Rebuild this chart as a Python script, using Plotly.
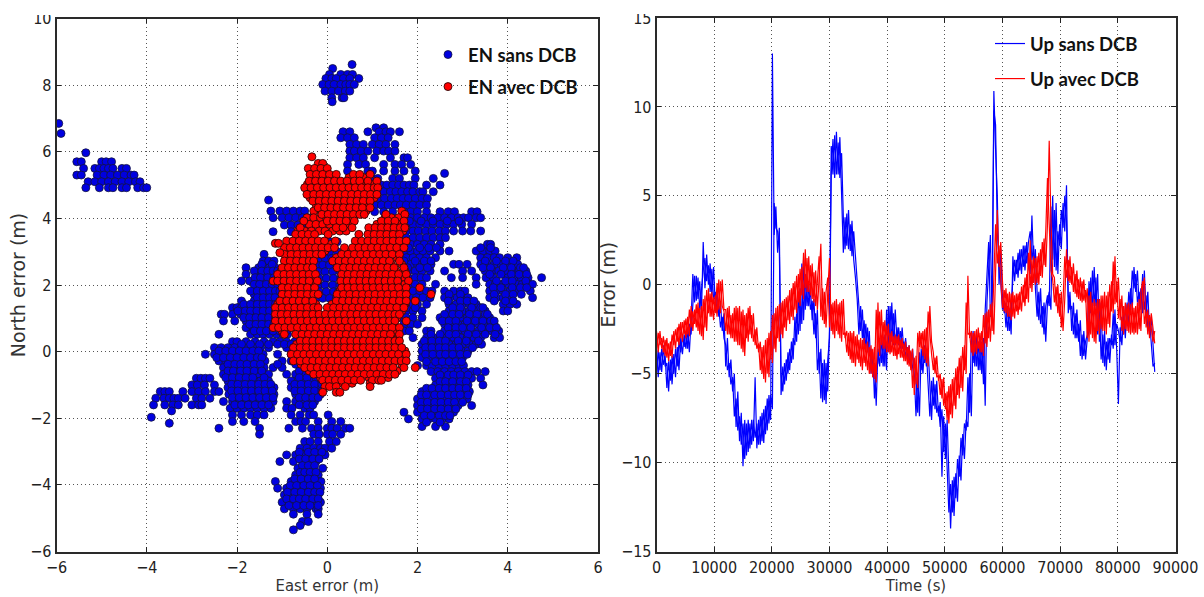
import plotly.graph_objects as go
from plotly.subplots import make_subplots

W, H = 1204, 597

# ---- Scatter data: (north error, [east errors]) ----
blue_top = [
 (8.62,[0.55]),(8.5,[0.12]),(8.32,[0.05,0.3,0.45,0.56]),(8.2,[-0.03,0.1,0.2,0.36,0.5,0.7]),
 (8.02,[-0.1,0.04,0.15,0.3,0.41,0.5,0.6]),(7.82,[-0.05,0.1,0.25,0.4,0.5]),(7.62,[0.1,0.33,0.37]),(7.5,[0.11]),
]
blue_far_left = [
 (6.85,[-5.95]),(6.55,[-5.9]),(5.97,[-5.35]),(5.7,[-5.55,-5.45,-5.0,-4.9,-4.78]),
 (5.5,[-5.4,-5.15,-5.05,-4.95,-4.85,-4.75,-4.55,-4.45]),
 (5.3,[-5.55,-5.45,-5.1,-4.95,-4.8,-4.65,-4.5,-4.35,-4.28]),
 (5.1,[-5.3,-5.15,-5.0,-4.85,-4.7,-4.55,-4.4,-4.25,-4.15]),
 (4.92,[-5.35,-5.05,-4.85,-4.75,-4.55,-4.45,-4.2,-4.07,-4.0]),
]
blue_upper = [
 (6.72,[1.08,1.25]),(6.6,[0.35,0.5,0.9,1.15,1.3,1.4,1.6]),(6.42,[0.3,0.45,0.6,1.05,1.2,1.35]),
 (6.22,[0.5,0.65,0.8,1.0,1.15,1.3,1.5]),(6.02,[0.5,0.6,0.75,0.9,1.1,1.25,1.36,1.5]),
 (5.82,[0.5,0.65,0.8,1.05,1.4,1.7,1.78]),(5.62,[0.45,0.7,0.85,1.25,1.5,1.65,1.85]),
 (5.42,[0.45,0.9,1.0,1.25,1.5,1.7,1.95]),(5.35,[2.6]),(5.2,[1.0,1.12,1.45,1.6,1.95,2.35]),
 (5.0,[1.2,1.32,1.45,1.58,1.7,1.82,1.92,2.2,2.5]),(4.8,[1.1,1.25,1.4,1.52,1.65,1.78,1.9,2.05,2.12,2.35]),
 (4.6,[1.12,1.27,1.42,1.55,1.68,1.8,1.95,2.1,2.22]),(4.4,[1.05,1.2,1.35,1.5,1.62,1.75,1.9,2.05,2.2]),
]
blue_right = [
 (4.2,[1.05,1.25,1.45,1.7,1.85,2.0,2.2,2.5,2.68,2.82,3.2,3.32]),
 (4.02,[1.7,1.85,2.0,2.15,2.3,2.45,2.6,2.75,2.9,3.02,3.13,3.3,3.4]),
 (3.82,[1.62,1.77,1.9,2.05,2.2,2.35,2.5,2.65,2.8,2.98,3.2]),
 (3.62,[1.6,1.75,1.9,2.02,2.18,2.32,2.48,2.62,2.8,3.0,3.18,3.4]),
 (3.42,[1.6,1.75,1.9,2.05,2.2,2.35,2.5,2.62]),(3.22,[1.72,1.85,2.0,2.15,2.3,2.5,3.55,3.62]),
 (3.02,[1.7,1.85,2.0,2.12,2.28,2.5,2.7,3.3,3.45,3.6,3.72]),(2.82,[1.6,1.75,1.9,2.05,2.2,2.4,3.4,3.55,3.7,3.82,4.0,4.2]),
 (2.62,[1.7,1.85,2.0,2.15,2.3,2.8,2.92,3.1,3.4,3.55,3.7,3.85,4.0,4.15,4.22]),
 (2.42,[1.8,1.95,2.1,2.28,2.6,3.0,3.2,3.5,3.65,3.8,3.95,4.1,4.25,4.4]),
 (2.22,[1.8,1.95,2.08,2.2,2.75,3.0,3.3,3.52,3.68,4.0,4.15,4.3,4.45,4.75]),
 (2.02,[1.8,1.95,2.1,2.4,3.3,3.6,3.72,3.88,4.02,4.2,4.32,4.48,4.55]),
 (1.82,[1.9,2.05,2.2,2.32,2.6,2.8,2.95,3.05,3.6,3.75,3.9,4.05,4.2,4.5]),
 (1.62,[1.82,1.98,2.12,2.28,2.6,2.72,2.88,3.0,3.12,3.6,3.75,3.9,4.02,4.55]),
 (1.42,[1.7,1.85,2.0,2.2,2.7,2.85,3.0,3.15,3.3,3.9,4.05,4.2]),
 (1.22,[1.6,1.75,1.9,2.1,2.7,2.85,3.0,3.15,3.3,3.5,3.9,4.0]),
 (1.02,[1.6,1.75,1.9,2.1,2.5,2.65,2.8,2.95,3.1,3.25,3.4,3.6]),
 (0.82,[1.7,1.85,2.0,2.6,2.75,2.9,3.05,3.2,3.35,3.5,3.7]),
 (0.62,[1.7,1.82,2.2,2.3,2.6,2.75,2.9,3.05,3.2,3.35,3.5,3.65,3.8]),
 (0.42,[1.9,2.2,2.35,2.5,2.65,2.8,2.95,3.1,3.25,3.4,3.7,3.82]),
 (0.22,[2.1,2.25,2.4,2.55,2.7,2.85,3.0,3.15,3.3,3.42]),
 (0.02,[2.1,2.25,2.4,2.55,2.7,2.85,3.0,3.12]),(-0.18,[2.1,2.25,2.4,2.55,2.7,2.85,3.0]),
 (-0.42,[2.0,2.2,2.32,2.48,2.62,2.78,2.92,3.02]),(-0.6,[2.3,2.45,2.6,2.75,2.9,3.05,3.2,3.32,3.5]),
 (-0.8,[2.4,2.55,2.7,2.85,3.0,3.2,3.4]),(-1.0,[2.4,2.55,2.7,2.85,3.0,3.12,3.45]),
 (-1.2,[2.1,2.25,2.4,2.55,2.7,2.85,3.0,3.15]),(-1.42,[2.0,2.15,2.3,2.45,2.6,2.75,2.9,3.1]),
 (-1.62,[2.0,2.15,2.3,2.45,2.6,2.75,2.9,3.2]),(-1.82,[1.7,2.0,2.15,2.3,2.45,2.6,2.8]),
 (-2.02,[1.8,2.1,2.25,2.4,2.55,2.7]),(-2.25,[2.1,2.4,2.62]),
]
blue_right_fill = [
 (3.92,[1.82,2.08,2.34,2.66,2.92]),(3.12,[1.8,2.05,2.25,2.42,3.4,3.62]),
 (2.72,[1.7,1.95,2.15,2.3,3.5,3.75,3.95,4.12]),(2.52,[1.78,2.05,2.22,3.45,3.62,3.9,4.08,4.28,4.35]),
 (2.32,[3.6,3.85,4.08,4.25,4.42]),(2.12,[3.75,3.95,4.1,4.4]),(1.92,[3.68,3.85,4.1,4.28,4.42]),
 (1.72,[2.7,2.95,3.7,3.95,4.12,4.3]),(1.52,[2.68,2.95,3.1,3.25,3.7,3.95,4.12]),
 (1.32,[1.75,1.95,2.78,2.95,3.2,3.4,3.45]),(1.12,[2.6,2.78,2.92,3.15,3.32,3.5,3.55]),
 (0.92,[2.55,2.7,2.85,3.1,3.28,3.45,3.62,3.7]),(0.72,[2.68,2.85,3.0,3.18,3.42,3.6,3.75]),
 (0.52,[2.3,2.5,2.7,2.85,3.12,3.3,3.5,3.72]),(0.32,[2.15,2.32,2.48,2.62,2.9,3.08,3.35]),
 (0.12,[2.18,2.32,2.48,2.62,2.78,2.92,3.22]),(-0.08,[2.18,2.34,2.5,2.62,2.78,2.95,3.1]),
 (-0.3,[2.2,2.4,2.55,2.7,2.85,2.98]),(-0.7,[2.5,2.68,2.8,2.95,3.12]),(-0.9,[2.5,2.62,2.78,2.95,3.08]),
 (-1.1,[2.2,2.32,2.48,2.62,2.78,2.92,3.08]),(-1.3,[2.08,2.2,2.38,2.52,2.68,2.82,2.95,3.12]),
 (-1.52,[2.08,2.22,2.38,2.52,2.68,2.82,3.0]),(-1.72,[2.08,2.22,2.38,2.52,2.68,2.85]),
 (-1.92,[2.15,2.3,2.48,2.62,2.72]),(-2.12,[2.2,2.5]),
]
blue_left = [
 (4.55,[-1.3]),(4.22,[-1.25,-1.05,-0.9,-0.75,-0.6,-0.5]),(4.02,[-1.2,-1.0,-0.85,-0.7,-0.55,-0.42]),
 (3.8,[-0.95,-0.8,-0.65,-0.5,-0.4]),(3.6,[-1.2,-0.8,-0.62,-0.5]),
 (3.3,[-0.25,-0.1,0.05,0.22]),(3.0,[-0.15,0.05,0.22]),(2.8,[-0.2,-0.05,0.1,0.25]),(2.6,[-0.25,-0.1,0.05,0.22]),
 (2.4,[-0.2,-0.05,0.12,0.28]),(2.2,[-0.18,-0.02,0.14,0.3]),(2.0,[-0.2,-0.05,0.12,0.28]),
 (1.8,[-0.18,-0.02,0.14,0.25]),(1.6,[-0.25,-0.1,0.05,0.2]),
 (2.92,[-1.4]),(2.72,[-1.42,-1.3,-1.18]),(2.52,[-1.8,-1.52,-1.4,-1.28,-1.15]),
 (2.32,[-1.8,-1.5,-1.38,-1.25,-1.12]),(2.12,[-1.9,-1.72,-1.55,-1.42,-1.28,-1.12]),
 (1.92,[-1.6,-1.47,-1.33,-1.2,-1.08]),(1.72,[-1.62,-1.5,-1.36,-1.22,-1.1]),
 (1.52,[-1.9,-1.62,-1.48,-1.35,-1.22,-1.1]),(1.32,[-2.1,-2.0,-1.9,-1.76,-1.62,-1.48,-1.35,-1.22,-1.1]),
 (1.12,[-2.35,-2.28,-2.1,-1.92,-1.78,-1.64,-1.5,-1.36,-1.22,-1.12]),
 (0.92,[-2.3,-2.05,-1.8,-1.65,-1.52,-1.38,-1.25,-1.1]),(0.72,[-1.8,-1.65,-1.5,-1.38,-1.24,-1.1]),
 (0.52,[-2.4,-1.7,-1.55,-1.42,-1.28,-1.12,-0.98,-0.88]),(0.3,[-2.1,-2.0,-1.8,-1.6,-1.4,-1.2,-1.05,-0.9,-0.72]),
 (0.12,[-2.5,-2.35,-2.2,-2.05,-1.9,-1.75,-1.6,-1.48,-1.3,-0.9]),
 (-0.08,[-2.7,-2.5,-2.35,-2.2,-2.05,-1.9,-1.75,-1.6,-1.42,-1.1,-0.8,-0.7,-0.6]),
 (-0.28,[-2.4,-2.25,-2.1,-1.95,-1.8,-1.65,-1.5,-1.38,-1.0,-0.8,-0.6]),
 (-0.48,[-2.3,-2.15,-2.0,-1.85,-1.7,-1.55,-1.4,-1.2,-1.0,-0.6,-0.48]),
 (-0.68,[-2.3,-2.15,-2.0,-1.85,-1.7,-1.52,-1.3,-0.9,-0.7,-0.5,-0.3]),
 (-0.88,[-2.2,-2.05,-1.9,-1.75,-1.6,-1.48,-1.3,-0.8,-0.65,-0.5,-0.35,-0.2,-0.08]),
 (-1.08,[-2.2,-2.05,-1.9,-1.75,-1.6,-1.45,-1.3,-1.18,-0.8,-0.65,-0.5,-0.35,-0.2,-0.08]),
 (-1.28,[-2.18,-2.02,-1.88,-1.72,-1.58,-1.42,-1.28,-1.18,-0.7,-0.55,-0.4,-0.25,-0.15]),
 (-1.5,[-2.3,-2.1,-1.95,-1.8,-1.65,-1.5,-1.35,-1.2,-0.9,-0.7,-0.55,-0.4,-0.28]),
 (-1.7,[-2.15,-2.0,-1.85,-1.7,-1.55,-1.4,-1.25,-0.9,-0.78,-0.5,-0.38]),
 (-1.9,[-2.1,-1.9,-1.7,-1.55,-1.4,-0.8,-0.6,-0.4,-0.3,0.02]),
 (-2.1,[-2.1,-1.85,-1.6,-0.7,-0.58,-0.48,-0.2,0.1,0.3]),
 (-2.3,[-2.4,-1.5,-0.85,-0.55,-0.35,-0.2,0.0,0.1,0.22,0.4,0.5]),
 (-2.48,[-1.5,-0.3,-0.18,0.0,0.12,0.3]),
]
blue_left_fill = [
 (2.62,[-1.45,-1.22]),(2.42,[-1.62,-1.45,-1.32,-1.2,-1.1]),(2.22,[-1.6,-1.48,-1.32,-1.18,-1.08]),
 (2.02,[-1.62,-1.5,-1.35,-1.22,-1.1]),(1.82,[-1.7,-1.55,-1.42,-1.28,-1.15,-1.05]),(1.62,[-1.55,-1.42,-1.28,-1.16]),
 (1.42,[-1.85,-1.7,-1.55,-1.42,-1.28,-1.15]),(1.22,[-1.98,-1.82,-1.7,-1.56,-1.42,-1.28,-1.15]),
 (1.02,[-1.85,-1.72,-1.58,-1.45,-1.3,-1.15]),(0.82,[-1.72,-1.58,-1.45,-1.3,-1.18]),
 (0.62,[-1.62,-1.48,-1.35,-1.2,-1.05,-0.9]),(0.22,[-1.9,-1.7,-1.5,-1.3,-1.1,-0.95,-0.8]),
 (0.02,[-2.4,-2.25,-2.1,-1.95,-1.8,-1.65,-1.52]),(-0.18,[-2.45,-2.3,-2.15,-2.0,-1.85,-1.7,-1.55,-1.45]),
 (-0.38,[-2.2,-2.05,-1.92,-1.78,-1.62,-1.48,-1.1,-0.7]),(-0.58,[-2.2,-2.08,-1.92,-1.78,-1.62,-1.45,-0.62]),
 (-0.78,[-2.25,-2.1,-1.95,-1.8,-1.65,-1.4,-0.62,-0.45,-0.25]),
 (-0.98,[-2.12,-1.98,-1.82,-1.68,-1.52,-1.38,-1.25,-0.72,-0.58,-0.42,-0.28,-0.12]),
 (-1.18,[-2.12,-1.98,-1.82,-1.68,-1.52,-1.38,-1.22,-0.72,-0.58,-0.42,-0.28,-0.12]),
 (-1.38,[-2.1,-1.95,-1.8,-1.65,-1.5,-1.35,-1.2,-0.62,-0.48,-0.32,-0.2]),
 (-1.6,[-2.05,-1.9,-1.75,-1.6,-1.45,-1.3,-0.62,-0.45,-0.32]),
]
blue_lower_left = [
 (-0.8,[-2.9,-2.8,-2.7,-2.6]),(-1.0,[-3.0,-2.88,-2.72,-2.5]),
 (-1.2,[-3.7,-3.6,-3.5,-3.2,-3.0,-2.85,-2.7,-2.5,-2.4]),
 (-1.4,[-3.8,-3.62,-3.5,-3.4,-3.3,-3.15,-2.9,-2.78,-2.6]),
 (-1.6,[-3.85,-3.6,-3.42,-3.3,-3.0,-2.85,-2.78]),(-1.78,[-3.45]),(-1.97,[-3.9]),(-2.15,[-3.5]),
]
blue_south = [
 (-2.7,[-0.5,-0.38,-0.2,0.05,0.2]),(-2.9,[-0.6,-0.45,-0.3,-0.15,-0.05,0.1]),
 (-3.1,[-0.9,-0.7,-0.52,-0.35,-0.2,-0.05]),(-3.3,[-1.05,-0.75,-0.55,-0.4,-0.25]),
 (-3.5,[-0.65,-0.5,-0.35,-0.1]),(-3.7,[-0.7,-0.55,-0.45,-0.3,-0.2]),
 (-3.9,[-1.15,-0.8,-0.65,-0.5,-0.35,-0.2,-0.14]),(-4.1,[-1.1,-0.9,-0.75,-0.6,-0.45,-0.3,-0.15]),
 (-4.3,[-0.95,-0.8,-0.65,-0.5,-0.35,-0.2]),(-4.52,[-1.0,-0.85,-0.7,-0.55,-0.4,-0.25,-0.15]),
 (-4.72,[-0.95,-0.75,-0.6,-0.45,-0.25,-0.2]),(-4.88,[-0.75,-0.45,-0.2]),
 (-5.1,[-0.55,-0.42]),(-5.22,[-0.6]),(-5.35,[-0.75]),
 (-3.02,[-0.62,-0.42,-0.28,-0.12]),(-3.22,[-0.62,-0.48,-0.32,-0.18]),(-3.42,[-0.55,-0.42,-0.28]),
 (-3.62,[-0.6,-0.5,-0.38,-0.25]),(-3.82,[-0.72,-0.58,-0.42,-0.28]),(-4.02,[-0.82,-0.68,-0.52,-0.38,-0.22]),
 (-4.22,[-0.88,-0.72,-0.58,-0.42,-0.28,-0.16]),(-4.42,[-0.9,-0.75,-0.62,-0.48,-0.32,-0.2]),
 (-4.62,[-0.85,-0.68,-0.52,-0.38,-0.2]),
]
red_fill = [
 (5.22,[-0.32,-0.18,-0.02,0.12,0.48,0.65,0.82]),(5.02,[-0.44,-0.3,-0.14,0.0,0.14,0.26,0.42,0.56,0.7,0.84,0.98]),
 (4.82,[-0.38,-0.24,-0.1,0.04,0.18,0.34,0.46,0.62,0.75,0.88,1.02]),
 (4.62,[-0.38,-0.22,-0.08,0.08,0.2,0.32,0.48,0.62,0.74,0.88,1.04]),
 (4.42,[-0.25,-0.12,0.02,0.16,0.3,0.44,0.58,0.72,0.85]),(4.22,[-0.3,-0.14,0.0,0.14,0.28,0.42,0.56,0.7,0.86,1.65]),
 (4.02,[-0.45,-0.3,-0.15,-0.02,0.1,0.24,0.4,0.55,1.28,1.42,1.58]),
 (3.82,[-0.4,-0.25,-0.1,0.05,0.2,0.34,0.5,1.1,1.28,1.42,1.58]),
 (3.62,[-0.65,-0.5,-0.35,-0.18,-0.05,0.12,0.28,0.42,1.0,1.14,1.28,1.42,1.55,1.68]),
 (3.22,[-0.88,-0.6,-0.35,-0.1,0.08,0.66,0.92,1.2,1.45,1.65]),(3.02,[-0.9,-0.62,-0.32,-0.05,0.42,0.72,1.0,1.28,1.52]),
 (2.82,[-0.88,-0.6,-0.35,0.2,0.5,0.78,1.08,1.35,1.55]),(2.62,[-0.9,-0.62,-0.42,0.3,0.58,0.86,1.12,1.42,1.65]),
 (2.42,[-1.02,-0.75,-0.48,0.36,0.65,0.92,1.25,1.52,1.72]),(2.22,[-1.05,-0.78,-0.5,-0.3,0.36,0.68,0.95,1.22,1.5,1.72]),
 (2.02,[-0.92,-0.65,-0.36,0.38,0.65,0.95,1.22,1.5,1.72]),(1.82,[-0.92,-0.65,-0.35,0.28,0.55,0.85,1.12,1.42,1.7]),
 (1.62,[-0.95,-0.65,-0.38,0.28,0.58,0.85,1.12,1.4,1.7]),(1.42,[-1.1,-0.8,-0.52,-0.25,0.1,0.35,0.62,0.92,1.22,1.5,1.72]),
 (1.22,[-1.08,-0.8,-0.52,-0.25,0.05,0.32,0.6,0.88,1.15,1.45,1.65]),
 (1.02,[-1.1,-0.82,-0.55,-0.25,0.0,0.3,0.58,0.85,1.12,1.42,1.55]),(0.82,[-1.1,-0.8,-0.5,-0.22,0.08,0.35,0.62,0.92,1.2,1.48]),
 (0.62,[-1.0,-0.62,-0.35,-0.08,0.2,0.48,0.78,1.05,1.35,1.55]),(0.42,[-0.55,-0.28,0.0,0.3,0.58,0.85,1.15,1.42,1.58]),
 (0.22,[-0.68,-0.4,-0.12,0.18,0.45,0.72,1.0,1.3,1.58]),(0.02,[-0.72,-0.45,-0.15,0.12,0.4,0.7,0.98,1.25,1.55,1.72]),
 (-0.18,[-0.7,-0.42,-0.15,0.12,0.42,0.7,0.98,1.28,1.55,1.72]),(-0.38,[-0.58,-0.3,-0.02,0.25,0.52,0.82,1.1,1.38,1.65]),
 (-0.58,[-0.4,-0.1,0.18,0.45,0.72,1.02,1.3,1.55]),(-0.78,[-0.15,0.1,0.38,0.65,0.92,1.2,1.35]),(-0.95,[0.0,0.25,0.55,0.95]),
]
red_rows = [
 (5.85,[-0.34]),(5.65,[-0.2,-0.1]),(5.5,[-0.42,-0.28,-0.14,0.0]),
 (5.32,[-0.38,-0.24,-0.1,0.05,0.2,0.58,0.72,0.95]),
 (5.12,[-0.4,-0.26,-0.12,0.02,0.16,0.3,0.44,0.6,0.72,0.9,1.1]),
 (4.92,[-0.5,-0.36,-0.22,-0.08,0.06,0.2,0.34,0.48,0.62,0.76,0.9,1.04,1.12]),
 (4.72,[-0.45,-0.3,-0.16,-0.02,0.12,0.26,0.4,0.54,0.68,0.82,0.96,1.1]),
 (4.52,[-0.32,-0.18,-0.04,0.1,0.24,0.38,0.52,0.66,0.8,0.95]),
 (4.32,[-0.2,-0.06,0.08,0.22,0.36,0.5,0.64,0.78,0.95]),
 (4.12,[-0.12,0.02,0.16,0.3,0.44,0.58,0.72,0.82,1.3,1.72]),
 (3.92,[-0.52,0.0,0.14,0.28,0.42,0.6,1.2,1.35,1.5,1.7]),
 (3.72,[-0.6,0.2,0.35,0.55,0.92,1.06,1.2,1.34,1.48,1.62,1.72]),
 (3.52,[-0.7,-0.56,-0.42,-0.28,0.02,0.7,0.9,1.04,1.18,1.32,1.46,1.6]),
 (3.32,[-0.9,-0.76,-0.62,-0.48,-0.34,-0.2,-0.06,0.18,0.62,0.76,0.9,1.04,1.18,1.32,1.46,1.6,1.75]),
 (3.12,[-0.95,-0.82,-0.68,-0.54,-0.4,-0.26,-0.12,0.02,0.16,0.38,0.56,0.7,0.84,0.98,1.12,1.26,1.4,1.54,1.7]),
 (2.92,[-0.95,-0.8,-0.66,-0.52,-0.38,-0.24,-0.12,0.32,0.46,0.6,0.74,0.88,1.02,1.16,1.3,1.44,1.6]),
 (2.72,[-0.95,-0.82,-0.68,-0.54,-0.4,-0.3,0.12,0.26,0.4,0.54,0.68,0.82,0.96,1.1,1.24,1.38,1.6]),
 (2.52,[-1.0,-0.86,-0.72,-0.58,-0.44,-0.32,0.22,0.36,0.5,0.64,0.78,0.92,1.06,1.2,1.34,1.48,1.7]),
 (2.32,[-1.1,-0.96,-0.82,-0.68,-0.54,-0.4,-0.26,0.32,0.46,0.6,0.74,0.88,1.02,1.16,1.3,1.44,1.58,1.75]),
 (2.12,[-1.2,-1.1,-0.96,-0.82,-0.68,-0.54,-0.4,-0.22,0.3,0.44,0.58,0.72,0.86,1.0,1.14,1.28,1.42,1.56,1.8]),
 (1.92,[-1.0,-0.86,-0.72,-0.58,-0.44,-0.28,0.32,0.46,0.6,0.74,0.88,1.02,1.16,1.3,1.44,1.58,1.75,2.05]),
 (1.72,[-1.0,-0.86,-0.72,-0.58,-0.44,-0.3,-0.2,0.22,0.36,0.5,0.64,0.78,0.92,1.06,1.2,1.34,1.48,1.62,1.75,2.3]),
 (1.52,[-1.05,-0.9,-0.76,-0.62,-0.48,-0.32,0.2,0.34,0.48,0.62,0.76,0.9,1.04,1.18,1.32,1.46,1.6,1.75,1.95]),
 (1.32,[-1.15,-1.0,-0.86,-0.72,-0.58,-0.44,-0.3,-0.2,0.0,0.14,0.28,0.42,0.56,0.7,0.84,0.98,1.12,1.26,1.4,1.54,1.7]),
 (1.12,[-1.15,-1.02,-0.88,-0.74,-0.6,-0.46,-0.32,-0.18,-0.04,0.1,0.24,0.38,0.52,0.66,0.8,0.94,1.08,1.22,1.36,1.5,1.6]),
 (0.92,[-1.15,-1.0,-0.86,-0.72,-0.58,-0.44,-0.3,-0.16,-0.02,0.12,0.26,0.4,0.54,0.68,0.82,0.96,1.1,1.24,1.38,1.5,1.75]),
 (0.72,[-1.2,-1.08,-0.94,-0.8,-0.66,-0.52,-0.38,-0.24,-0.1,0.04,0.18,0.32,0.46,0.6,0.74,0.88,1.02,1.16,1.3,1.44,1.6]),
 (0.52,[-0.95,-0.7,-0.56,-0.42,-0.28,-0.14,0.0,0.14,0.28,0.42,0.56,0.7,0.84,0.98,1.12,1.26,1.4,1.6]),
 (0.32,[-0.6,-0.46,-0.32,-0.18,-0.04,0.1,0.24,0.38,0.52,0.66,0.8,0.94,1.08,1.22,1.36,1.5,1.6]),
 (0.12,[-0.75,-0.6,-0.46,-0.32,-0.18,-0.04,0.1,0.24,0.38,0.52,0.66,0.8,0.94,1.08,1.22,1.36,1.5,1.65]),
 (-0.08,[-0.8,-0.66,-0.52,-0.38,-0.24,-0.1,0.04,0.18,0.32,0.46,0.6,0.74,0.88,1.02,1.16,1.3,1.44,1.58,1.75]),
 (-0.28,[-0.75,-0.6,-0.46,-0.32,-0.18,-0.04,0.1,0.24,0.38,0.52,0.66,0.8,0.94,1.08,1.22,1.36,1.5,1.64,1.75]),
 (-0.48,[-0.5,-0.36,-0.22,-0.08,0.06,0.2,0.34,0.48,0.62,0.76,0.9,1.04,1.18,1.32,1.46,1.7,1.95]),
 (-0.68,[-0.3,-0.16,-0.02,0.12,0.26,0.4,0.54,0.68,0.82,0.96,1.1,1.24,1.38,1.5]),
 (-0.86,[-0.1,0.04,0.18,0.32,0.46,0.6,0.74,1.0,1.14,1.2]),
 (-1.05,[-0.05,0.05,0.2,0.4,0.95]),(-1.22,[-0.1,0.2,0.28]),
 (3.25,[-1.15,-1.08]),(2.97,[-1.05]),
]

blue_groups = [blue_top, blue_far_left, blue_upper, blue_right, blue_right_fill,
               blue_left, blue_left_fill, blue_lower_left, blue_south]

def flatten(groups):
    xs, ys = [], []
    for rows in groups:
        for north, easts in rows:
            for east in easts:
                xs.append(east)
                ys.append(north)
    return xs, ys

blue_e, blue_n = flatten(blue_groups)
red_e, red_n = flatten([red_fill, red_rows])

# ---- Up error time series, one value per 300 s ----
# The noisy bands are read as two envelopes running in opposite phase.
time_s = list(range(0, 86700, 300))
up_sans = [
 -3.6,-5.2,-3.8,-4.9,-3.4,-4.6,-4.4,-6.0,-4.2,-5.6,
 -3.9,-5.2,-3.5,-4.8,-3.0,-3.9,-2.8,-3.6,-2.5,-3.8,
 -2.0,0.6,-1.0,0.5,-0.8,0.2,-1.6,2.4,-0.2,1.7,
 0.0,1.2,-0.6,1.0,-1.2,-0.4,-1.8,-1.0,-2.6,-1.6,
 -4.6,-3.0,-5.2,-4.2,-6.0,-5.0,-8.0,-6.0,-8.8,-7.2,
 -10.2,-7.6,-9.6,-7.6,-9.2,-7.6,-8.8,-5.2,-9.2,-7.6,
 -9.0,-7.2,-8.9,-6.8,-8.2,-6.2,-7.6,13.0,2.8,4.4,
 1.8,3.2,-6.2,-4.6,-5.6,-4.2,-5.0,-3.6,-4.4,-3.0,
 -3.4,-1.6,-2.8,-0.2,-2.2,1.4,-1.4,0.4,-1.2,-0.2,
 -2.0,-0.8,-3.0,-1.4,-5.0,-3.6,-6.6,-4.2,-6.7,-4.2,
 -3.0,6.2,8.2,6.0,8.6,6.2,8.3,5.2,1.8,3.8,
 2.2,4.2,1.9,3.6,1.4,0.4,-0.8,-2.8,-1.2,-3.0,
 -2.0,-3.6,-2.4,-4.0,-3.6,-5.2,-4.4,-6.8,-3.6,-4.6,
 -3.0,-4.6,-2.8,-4.8,-1.2,-3.8,-1.0,-3.4,-1.4,-3.2,
 -2.4,-3.6,-2.4,-3.8,-3.0,-4.2,-3.4,-4.6,-3.6,-5.0,
 -7.4,-5.0,-7.4,-3.6,-5.0,-3.4,-4.6,-3.6,-5.6,-7.6,
 -5.2,-7.0,-5.4,-7.4,-6.6,-10.8,-7.4,-9.8,-7.6,-11.0,
 -13.7,-11.0,-13.0,-10.6,-12.2,-9.6,-11.0,-8.4,-9.8,-7.6,
 -8.0,-5.0,-7.4,-2.6,-4.6,-2.8,-4.8,-3.0,-5.0,-3.0,
 -6.8,-1.0,1.0,2.8,-2.0,10.9,7.6,5.0,0.0,2.0,
 -0.8,-1.6,-1.0,-2.6,-1.4,-2.8,1.6,0.2,1.4,0.4,
 2.0,0.6,2.2,0.8,2.4,1.0,0.6,3.9,1.0,2.0,
 -0.4,-2.0,-0.2,-2.4,-1.0,-3.2,-1.0,-0.4,-1.4,5.0,
 1.0,4.6,0.6,3.4,2.0,4.6,3.0,5.6,-1.6,-0.4,
 -2.6,-1.0,-3.0,-1.4,-3.2,-2.0,-4.2,-2.6,-4.2,-3.0,
 -2.6,0.4,-1.4,1.0,-1.2,0.6,-3.2,-1.0,-4.4,-2.6,
 -4.8,-3.0,-4.4,-2.8,-3.6,-1.4,-3.6,-6.7,-2.4,-3.4,
 -1.6,-3.0,-1.0,-2.4,-0.2,-1.4,1.0,-0.4,0.8,-1.2,
 -0.2,-1.6,0.8,-1.6,-0.4,-2.8,-1.8,-3.4,-4.9,
]
up_sans_band = [
 -5.0,-3.7,-4.8,-3.6,-4.5,-4.0,-5.8,-4.3,-5.4,-4.0,
 -5.0,-3.6,-4.6,-3.2,-3.8,-2.9,-3.5,-2.6,-3.6,-2.2,
 -2.8,-0.8,0.5,-0.9,0.4,-1.4,-0.2,0.8,1.5,0.2,
 1.1,-0.4,0.9,-0.8,-0.4,-1.6,-1.2,-2.4,-1.8,-3.0,
 -3.4,-4.8,-4.4,-5.6,-5.2,-7.4,-6.4,-8.2,-7.4,-9.0,
 -7.8,-9.8,-7.8,-9.4,-7.8,-9.0,-7.6,-8.6,-7.8,-9.0,
 -7.4,-8.8,-7.0,-8.4,-6.4,-7.8,-6.2,-7.0,4.6,3.2,
 3.0,2.0,-5.0,-6.0,-4.4,-5.4,-3.8,-4.8,-3.2,-4.2,
 -1.8,-3.2,-0.4,-2.6,1.2,-2.0,0.6,-1.2,0.0,-1.4,
 -0.9,-2.8,-1.6,-4.8,-3.8,-6.4,-4.4,-6.5,-4.4,-6.0,
 -2.5,7.8,6.2,8.4,6.2,8.0,6.0,7.4,3.8,2.0,
 4.0,2.0,3.4,1.6,3.0,1.6,-0.4,-1.2,-2.6,-1.4,
 -3.4,-2.2,-3.8,-2.6,-5.0,-3.8,-6.4,-4.6,-4.4,-3.2,
 -4.4,-3.0,-4.6,-1.4,-3.6,-1.2,-3.2,-1.6,-3.4,-2.4,
 -3.4,-2.6,-3.6,-3.2,-4.0,-3.6,-4.4,-3.8,-4.8,-5.4,
 -5.2,-7.2,-3.8,-4.8,-3.6,-4.4,-3.8,-5.4,-7.4,-5.4,
 -6.8,-5.6,-7.2,-6.8,-8.0,-7.0,-9.4,-7.8,-10.6,-12.8,
 -11.2,-12.8,-10.8,-12.0,-9.8,-10.8,-8.6,-9.6,-7.8,-8.2,
 -5.2,-7.2,-2.8,-4.4,-3.0,-4.6,-3.2,-4.8,-3.2,-5.6,
 -1.4,0.8,2.4,-1.8,-1.6,9.8,9.0,3.0,1.4,0.4,
 -1.4,-0.9,-2.4,-1.2,-2.6,-1.6,0.4,1.4,0.6,1.8,
 0.8,2.0,1.0,2.2,1.2,2.4,3.0,1.4,2.2,-0.2,
 -1.8,-0.4,-2.2,-1.2,-2.8,-1.2,-0.6,-1.2,4.4,1.4,
 4.2,0.8,3.0,2.2,4.2,3.2,5.0,3.6,-0.6,-1.4,
 -1.2,-2.8,-1.6,-3.0,-2.2,-4.0,-2.8,-4.0,-3.2,-2.8,
 0.2,-1.6,0.8,-1.2,0.4,-2.8,-1.2,-4.2,-2.8,-4.6,
 -3.2,-4.2,-3.0,-3.4,-1.6,-3.4,-2.2,-2.6,-3.2,-1.8,
 -2.8,-1.2,-2.2,-0.4,-1.2,0.8,-0.2,0.6,-1.0,-0.4,
 -1.4,0.6,-1.4,-0.6,-2.6,-2.0,-3.2,-4.6,-4.4,
]
up_avec = [
 -2.6,-3.8,-2.6,-3.6,-2.9,-4.0,-3.0,-4.3,-3.2,-4.1,
 -2.6,-3.6,-2.4,-3.4,-2.1,-3.2,-2.0,-3.0,-1.8,-2.9,
 -1.2,-2.6,-1.4,-2.4,-1.0,-2.8,-1.2,-3.1,-0.6,-2.6,
 -0.2,-1.8,-0.4,-2.0,-0.6,-1.8,0.3,-1.6,0.3,-1.4,
 -1.4,-2.8,-1.2,-3.0,-1.6,-3.2,-1.2,-3.4,-1.2,-3.6,
 -1.4,-4.0,-1.6,-3.2,-1.2,-3.0,-1.6,-3.4,-2.4,-3.8,
 -3.2,-5.0,-3.4,-5.5,-3.0,-5.2,-2.6,-4.4,-1.6,-3.8,
 -1.2,-3.2,-1.0,-3.0,-0.8,-2.6,-0.6,-2.2,-0.2,-2.0,
 0.2,-1.6,0.6,-1.2,1.0,-0.8,2.0,-0.4,1.6,-0.6,
 1.2,-1.0,0.8,-1.4,0.4,2.3,-2.0,-0.4,-2.4,-0.6,
 1.5,-2.6,-1.0,-3.0,-0.8,-2.8,-1.0,-3.2,-0.8,-3.0,
 -2.6,-4.0,-2.6,-4.4,-2.6,-4.6,-2.8,-4.4,-3.0,-4.8,
 -3.0,-4.6,-3.2,-5.0,-3.4,-5.2,-3.5,-5.5,-1.0,-4.0,
 -1.4,-3.6,-2.0,-3.8,-2.2,-3.9,-2.6,-4.0,-2.8,-4.2,
 -2.8,-4.1,-3.0,-4.3,-3.2,-4.5,-3.4,-4.8,-3.6,-6.2,
 -4.0,-5.8,-2.6,-3.6,-2.6,-4.2,-2.4,-4.6,-1.2,-3.2,
 -3.8,-5.0,-4.0,-5.4,-5.0,-6.4,-5.2,-7.0,-6.0,-7.8,
 -5.6,-7.5,-5.2,-7.0,-4.6,-6.4,-4.0,-6.0,-3.4,-5.0,
 0.5,-3.0,-2.6,-4.0,-2.6,-3.9,-2.4,-3.8,-2.6,-4.0,
 -1.6,-3.5,-1.4,-3.2,-1.0,-2.8,1.0,4.2,1.0,2.4,
 0.2,-1.5,-0.2,-1.8,-0.4,-2.0,-0.4,-1.9,-0.5,-1.7,
 -0.4,-1.5,0.0,-1.2,0.6,-1.0,2.5,-0.4,1.6,0.0,
 1.6,0.0,2.0,0.4,2.6,1.0,3.4,8.1,3.6,0.6,
 0.4,-1.2,0.0,-1.8,-0.4,-2.6,-0.8,2.0,0.2,1.6,
 0.0,1.2,-0.5,0.8,-0.8,0.4,-1.0,0.3,-1.0,-0.2,
 -3.2,-0.4,-3.0,-0.8,-3.3,-0.8,-2.8,-0.6,-2.6,-0.4,
 -2.8,-0.4,-2.4,0.2,-1.6,1.6,-1.0,0.4,-2.0,-0.6,
 -2.8,-1.0,-2.6,-1.0,-2.8,-1.0,-2.8,-1.2,-2.8,-0.8,
 -2.6,-0.2,0.4,-2.4,-1.4,-3.0,-1.6,-2.6,-3.3,
]
up_avec_band = [
 -3.6,-2.7,-3.4,-3.0,-3.8,-3.1,-4.1,-3.3,-4.0,-2.8,
 -3.4,-2.5,-3.2,-2.2,-3.0,-2.1,-2.8,-1.9,-2.8,-1.4,
 -2.4,-1.5,-2.2,-1.1,-2.6,-1.3,-2.9,-0.8,-2.4,-0.3,
 -1.6,-0.5,-1.8,-0.7,-1.6,0.1,-1.4,0.2,-1.2,-1.5,
 -2.6,-1.3,-2.8,-1.7,-3.0,-1.3,-3.2,-1.3,-3.4,-1.5,
 -3.8,-1.7,-3.0,-1.3,-2.8,-1.7,-3.2,-2.5,-3.6,-3.3,
 -4.8,-3.5,-5.3,-3.1,-5.0,-2.7,-4.2,-1.7,-3.6,-1.3,
 -3.0,-1.1,-2.8,-0.9,-2.4,-0.7,-2.0,-0.3,-1.8,0.1,
 -1.4,0.5,-1.0,0.9,-0.6,1.8,-0.2,1.5,-0.4,1.1,
 -0.8,0.7,-1.2,0.3,1.6,-1.8,-0.2,-2.2,-0.4,0.4,
 -2.4,-1.1,-2.8,-0.9,-2.6,-1.1,-3.0,-0.9,-2.8,-2.7,
 -3.8,-2.7,-4.2,-2.7,-4.4,-2.9,-4.2,-3.1,-4.6,-3.1,
 -4.4,-3.3,-4.8,-3.5,-5.0,-3.6,-5.3,-1.4,-3.8,-1.5,
 -3.4,-2.1,-3.6,-2.3,-3.8,-2.7,-3.8,-2.9,-4.0,-2.9,
 -3.9,-3.1,-4.1,-3.3,-4.3,-3.5,-4.6,-3.7,-5.8,-4.1,
 -5.6,-2.7,-3.5,-2.7,-4.0,-2.5,-4.4,-1.5,-3.0,-3.9,
 -4.8,-4.1,-5.2,-5.1,-6.2,-5.3,-6.8,-6.1,-7.6,-5.7,
 -7.3,-5.3,-6.8,-4.7,-6.2,-4.1,-5.8,-3.5,-4.8,-1.0,
 -2.8,-2.7,-3.8,-2.7,-3.8,-2.5,-3.6,-2.7,-3.8,-1.7,
 -3.3,-1.5,-3.0,-1.1,-2.6,0.5,3.4,1.2,2.2,0.3,
 -1.3,-0.3,-1.6,-0.5,-1.8,-0.5,-1.8,-0.6,-1.5,-0.5,
 -1.4,-0.1,-1.0,0.4,-0.8,1.8,-0.2,1.4,0.1,1.5,
 0.1,1.8,0.5,2.4,1.1,3.0,6.0,3.4,0.8,0.3,
 -1.0,-0.1,-1.6,-0.5,-2.4,-0.9,1.6,0.4,1.4,0.1,
 1.0,-0.4,0.6,-0.7,0.3,-0.9,0.2,-0.9,-0.3,-3.0,
 -0.6,-2.8,-1.0,-3.2,-1.0,-2.6,-0.8,-2.5,-0.6,-2.6,
 -0.6,-2.2,0.0,-1.5,1.3,-1.1,0.2,-1.9,-0.8,-2.6,
 -1.2,-2.5,-1.1,-2.7,-1.1,-2.7,-1.3,-2.7,-1.0,-2.5,
 -0.4,0.2,-2.2,-1.5,-2.8,-1.7,-2.4,-3.2,-2.6,
]

# ---- Figure ----
BLUE, RED, EDGE = "#0000e0", "#ff0000", "#14143c"
TICK = "#222222"
COND = "DejaVu Sans Condensed, DejaVu Sans"
LEFT = (56.5, 598.0, 18.5, 551.5)    # plot rectangle in px: x0, x1, ytop, ybottom
RIGHT = (656.5, 1175.5, 18.0, 551.5)

fig = make_subplots(rows=1, cols=2)
fig.add_trace(go.Scatter(x=blue_e, y=blue_n, mode="markers", name="EN sans DCB", legend="legend",
                         legendgroup="a", marker=dict(color=BLUE, size=8, line=dict(color=EDGE, width=0.8))), 1, 1)
fig.add_trace(go.Scatter(x=red_e, y=red_n, mode="markers", name="EN avec DCB", legend="legend",
                         legendgroup="b", marker=dict(color=RED, size=8, line=dict(color="#300808", width=0.9))), 1, 1)
fig.add_trace(go.Scatter(x=time_s, y=up_sans_band, mode="lines", name="Up sans DCB", legend="legend2",
                         legendgroup="c", showlegend=False, line=dict(color="#0000ff", width=1.2)), 1, 2)
fig.add_trace(go.Scatter(x=time_s, y=up_sans, mode="lines", name="Up sans DCB", legend="legend2",
                         legendgroup="c", line=dict(color="#0000ff", width=1.2)), 1, 2)
fig.add_trace(go.Scatter(x=time_s, y=up_avec_band, mode="lines", name="Up avec DCB", legend="legend2",
                         legendgroup="d", showlegend=False, line=dict(color="#ff0000", width=1.2)), 1, 2)
fig.add_trace(go.Scatter(x=time_s, y=up_avec, mode="lines", name="Up avec DCB", legend="legend2",
                         legendgroup="d", line=dict(color="#ff0000", width=1.2)), 1, 2)

axis_common = dict(showline=True, linecolor="#2a2a2a", linewidth=1.6, mirror="ticks", ticks="inside", ticklen=5,
                   tickcolor="#222222", showgrid=True, gridcolor="#555555", griddash="1px,3px", gridwidth=1,
                   zeroline=False, tickfont=dict(family=COND, size=16, color=TICK),
                   tickformat="d", automargin=False)

def dom_x(r):
    return [r[0] / W, r[1] / W]

def dom_y(r):
    return [1 - r[3] / H, 1 - r[2] / H]

x_title_font = dict(family=COND, size=16.5, color="#333333")
y_title_font = dict(family="DejaVu Sans", size=19, color="#333333")
fig.update_xaxes(axis_common, row=1, col=1, domain=dom_x(LEFT), range=[-6, 6], dtick=2,
                 title=dict(text="East error (m)", standoff=4, font=x_title_font))
fig.update_yaxes(axis_common, row=1, col=1, domain=dom_y(LEFT), range=[-6, 10], dtick=2,
                 title=dict(text="North error (m)", standoff=0, font=y_title_font))
fig.update_xaxes(axis_common, row=1, col=2, domain=dom_x(RIGHT), range=[0, 90000], dtick=10000,
                 title=dict(text="Time (s)", standoff=4, font=x_title_font))
fig.update_yaxes(axis_common, row=1, col=2, domain=dom_y(RIGHT), range=[-15, 15], dtick=5,
                 title=dict(text="Error (m)", standoff=0, font=y_title_font))

legend_font = dict(family="Lato", size=18.5, color="#111111", weight=700)
legend_common = dict(bgcolor="rgba(0,0,0,0)", borderwidth=0, font=legend_font,
                     xanchor="left", yanchor="top", xref="paper", yref="paper")
fig.update_layout(
    width=W, height=H, margin=dict(l=0, r=0, t=0, b=0), autosize=False,
    paper_bgcolor="white", plot_bgcolor="white", font=dict(family="DejaVu Sans"),
    showlegend=True,
    legend=dict(legend_common, x=428 / W, y=1 - 36 / H, tracegroupgap=5),
    legend2=dict(legend_common, x=990 / W, y=1 - 25 / H, tracegroupgap=8),
    shapes=[
        # white legend boxes that interrupt the grid
        dict(type="rect", xref="paper", yref="paper", layer="between", x0=428 / W, x1=590 / W,
             y0=1 - 112 / H, y1=1 - 19.5 / H, fillcolor="white", line_width=0),
        dict(type="rect", xref="paper", yref="paper", layer="between", x0=1020 / W, x1=1170 / W,
             y0=1 - 100 / H, y1=1 - 19 / H, fillcolor="white", line_width=0),
        # the source picture crops the top tick labels
        dict(type="rect", xref="paper", yref="paper", layer="above", x0=0, x1=54 / W,
             y0=1 - 15 / H, y1=1, fillcolor="white", line_width=0),
        dict(type="rect", xref="paper", yref="paper", layer="above", x0=620 / W, x1=654 / W,
             y0=1 - 14 / H, y1=1, fillcolor="white", line_width=0),
    ],
)
fig.write_html("out.html", config=dict(displayModeBar=False),
               post_script="document.body.style.margin='0';document.body.style.overflow='hidden';")
